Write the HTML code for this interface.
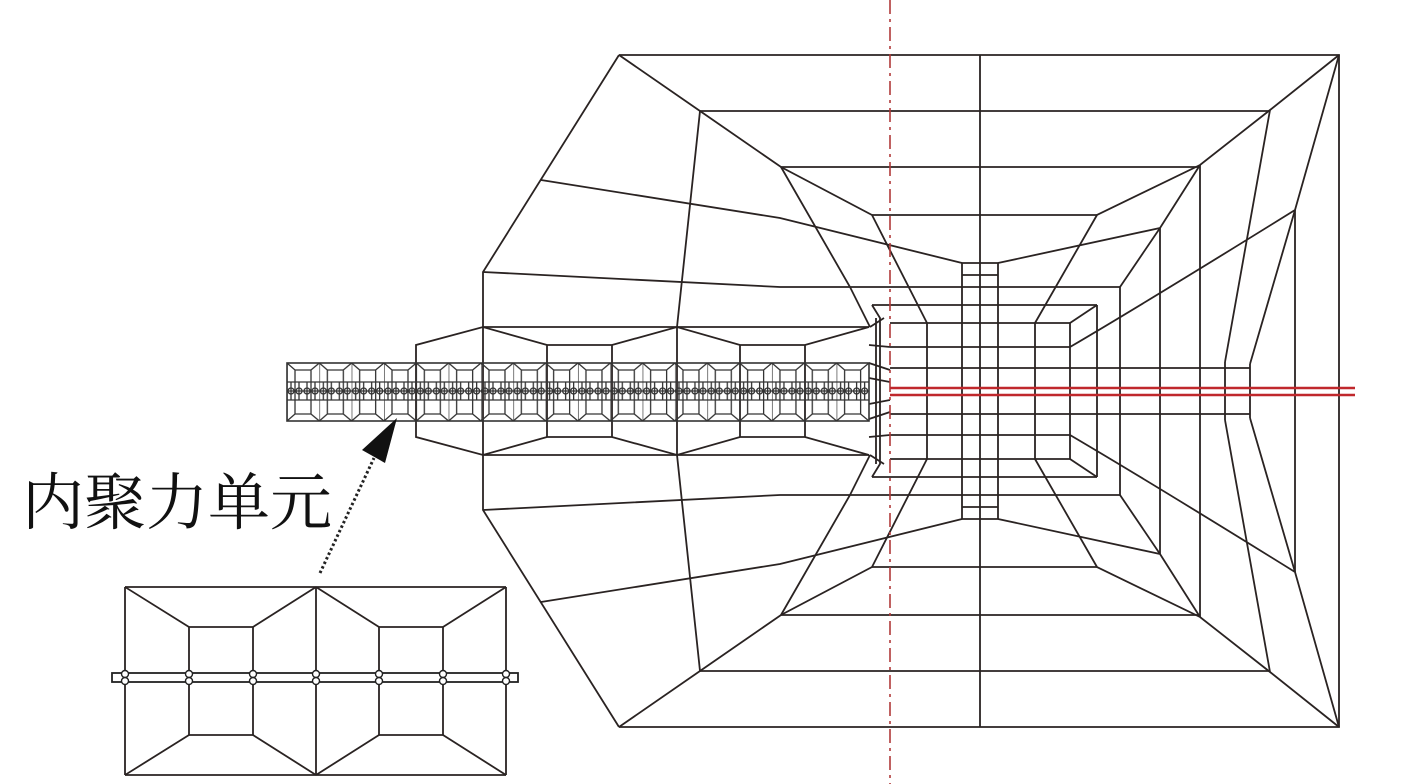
<!DOCTYPE html>
<html><head><meta charset="utf-8"><style>
html,body{margin:0;padding:0;background:#fff;}
svg{display:block;}
</style></head><body>
<svg width="1401" height="784" viewBox="0 0 1401 784" xmlns="http://www.w3.org/2000/svg">
<defs>
<pattern id="strip" patternUnits="userSpaceOnUse" x="287" y="363" width="32.33" height="58">
  <g fill="none" stroke="#333" stroke-width="1.3">
    <path d="M0,0 V58 M0,0 L8,7 H24 L32.33,0 M0,58 L8,51 H24 L32.33,58 M8,7 V51 M24,7 V51 M0,19 H32.33 M0,37 H32.33 M0,28 H32.33 M4,19 V37 M12,19 V37 M20,19 V37 M28,19 V37"/>
    <circle cx="4" cy="28" r="3"/><circle cx="12" cy="28" r="3"/><circle cx="20" cy="28" r="3"/><circle cx="28" cy="28" r="3"/>
  </g>
</pattern>
<g id="half" fill="none" stroke="#2a2322" stroke-width="1.8">
  <path d="M619,55 H1339 V391 M619,55 L483,272 V391 M980,55 V391"/>
  <path d="M700,111 H1270 M781,167 H1200 M872,215 H1097"/>
  <path d="M619,55 L700,111 L781,167 L872,215 L927,323 M1339,55 L1270,110 L1200,165 L1097,215 L1035,323"/>
  <path d="M541,180 L780,218 L962,263 M483,272 L780,287 H1120"/>
  <path d="M700,111 L677,327 V391 M781,167 L850,287 L870,327"/>
  <path d="M483,327 H869 M872,305 H1097 M890,323 H1070 M890,347 H1070 M890,368 H1250"/>
  <path d="M927,323 V391 M962,263 V391 M998,263 V391 M1035,323 V391 M1070,323 V391 M1097,305 V391 M1120,287 V391 M1160,228 V391 M1200,165 V391 M1295,210 V391 M1225,362 V391 M1250,364 V391"/>
  <path d="M962,263 H998 M962,275 H998 M998,263 L1160,228 M1120,287 L1160,228 M1070,323 L1097,305 M1160,228 L1200,165"/>
  <path d="M1339,55 L1295,210 L1250,364 M1270,110 L1225,362 M1295,210 Q1150,300 1070,347"/>
  <path d="M872,305 L880,318 V391 M870,327 L884,318 M876,318 V391 M869,345 L890,347 M869,363 L890,370 M869,378 L890,382"/>
  <path d="M416,391 V345 L483,327 L547,345 H612 L677,327 L740,345 H805 L869,327 M547,345 V391 M612,345 V391 M740,345 V391 M805,345 V391"/>
</g>
<g id="ihalf" fill="none" stroke="#2a2322" stroke-width="1.8">
  <path d="M125,587 H506 M125,587 V681 M506,587 V681 M316,587 V681"/>
  <path d="M189,627 H253 M189,627 V681 M253,627 V681 M379,627 H443 M379,627 V681 M443,627 V681"/>
  <path d="M125,587 L189,627 M316,587 L253,627 M316,587 L379,627 M506,587 L443,627"/>
</g>
</defs>
<use href="#half"/>
<use href="#half" transform="translate(0,782) scale(1,-1)"/>
<rect x="287" y="363" width="582" height="58" fill="url(#strip)" stroke="#333" stroke-width="1.6"/>
<line x1="890" y1="0" x2="890" y2="784" stroke="#b03a3a" stroke-width="1.6" stroke-dasharray="14,5,3,5"/>
<path d="M890,388 H1355 M890,395 H1355" stroke="#c0282c" stroke-width="2.6" fill="none"/>
<use href="#ihalf"/>
<use href="#ihalf" transform="translate(0,1362) scale(1,-1)"/>
<rect x="112" y="673" width="406" height="9" fill="#fff" stroke="#222" stroke-width="1.8"/>
<g fill="#fff" stroke="#222" stroke-width="1.4">
<circle cx="125" cy="674" r="3.5"/><circle cx="125" cy="681" r="3.5"/>
<circle cx="189" cy="674" r="3.5"/><circle cx="189" cy="681" r="3.5"/>
<circle cx="253" cy="674" r="3.5"/><circle cx="253" cy="681" r="3.5"/>
<circle cx="316" cy="674" r="3.5"/><circle cx="316" cy="681" r="3.5"/>
<circle cx="379" cy="674" r="3.5"/><circle cx="379" cy="681" r="3.5"/>
<circle cx="443" cy="674" r="3.5"/><circle cx="443" cy="681" r="3.5"/>
<circle cx="506" cy="674" r="3.5"/><circle cx="506" cy="681" r="3.5"/>
</g>
<line x1="320" y1="573" x2="374" y2="458" stroke="#222" stroke-width="3" stroke-dasharray="2.5,2.5"/>
<polygon points="397,418 362,450 385,463" fill="#111"/>
<text x="22" y="524" font-family="'Liberation Serif','Noto Serif CJK SC',serif" font-size="62" fill="#111">内聚力单元</text>
</svg>
</body></html>
